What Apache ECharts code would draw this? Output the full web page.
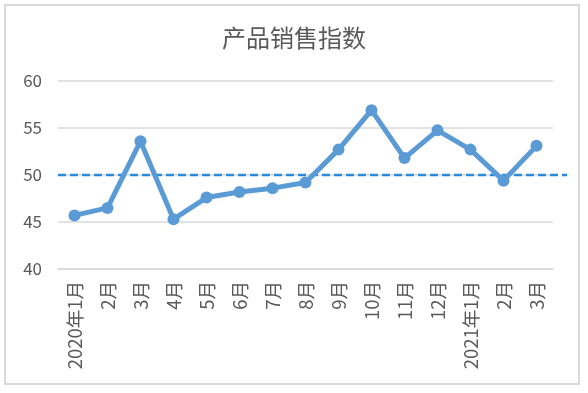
<!DOCTYPE html>
<html><head><meta charset="utf-8">
<script src="https://cdn.jsdelivr.net/npm/echarts@6/dist/echarts.min.js"></script>
<style>html,body{margin:0;padding:0;background:#fff;}#c{width:588px;height:393px;}</style>
</head><body><div id="c"></div>
<script>
const categories = ['2020年1月','2月','3月','4月','5月','6月','7月','8月','9月','10月','11月','12月','2021年1月','2月','3月'];
const salesIndex = [45.7, 46.5, 53.6, 45.3, 47.6, 48.2, 48.6, 49.2, 52.7, 56.9, 51.8, 54.75, 52.7, 49.4, 53.1];
const baselineValue = 50;
const baselineX = [0, 1];
const titleText = '产品销售指数';

const font = '"Microsoft YaHei","Noto Sans CJK SC","Noto Sans",sans-serif';
const chart = echarts.init(document.getElementById('c'), null, {renderer: 'canvas'});
chart.setOption({
  animation: false,
  title: {text: titleText, left: 'center', top: 21,
    textStyle: {fontFamily: font, fontSize: 24, fontWeight: 'normal', color: '#595959'}},
  graphic: [{type: 'rect', silent: true, shape: {x: 5, y: 5, width: 574, height: 379},
    style: {fill: 'none', stroke: '#d9d9d9', lineWidth: 2}}],
  grid: [
    {left: 58, right: 35, top: 81, bottom: 124},
    {left: 58, right: 21, top: 81, bottom: 124}
  ],
  xAxis: [
    {type: 'category', gridIndex: 0, data: categories, boundaryGap: true,
      axisLine: {lineStyle: {color: '#d9d9d9', width: 1.5}}, axisTick: {show: false},
      axisLabel: {interval: 0, rotate: 90, margin: 12, color: '#595959', fontSize: 18.5, fontFamily: font}},
    {type: 'value', gridIndex: 1, min: 0, max: 1, show: false}
  ],
  yAxis: [
    {type: 'value', gridIndex: 0, min: 40, max: 60, interval: 5,
      axisLine: {show: false}, axisTick: {show: false},
      splitLine: {lineStyle: {color: '#d9d9d9', width: 1.5}},
      axisLabel: {margin: 16, color: '#595959', fontSize: 17, fontFamily: font}},
    {type: 'value', gridIndex: 1, min: 40, max: 60, show: false}
  ],
  series: [
    {type: 'line', xAxisIndex: 1, yAxisIndex: 1, data: baselineX.map(x => [x, baselineValue]),
      symbol: 'none', lineStyle: {color: '#2b8ad6', width: 2.5, type: [8, 4]}, z: 1},
    {type: 'line', xAxisIndex: 0, yAxisIndex: 0, data: salesIndex,
      symbol: 'circle', symbolSize: 12,
      lineStyle: {color: '#5b9bd5', width: 5}, itemStyle: {color: '#5b9bd5'}, z: 3}
  ]
});
</script></body></html>
